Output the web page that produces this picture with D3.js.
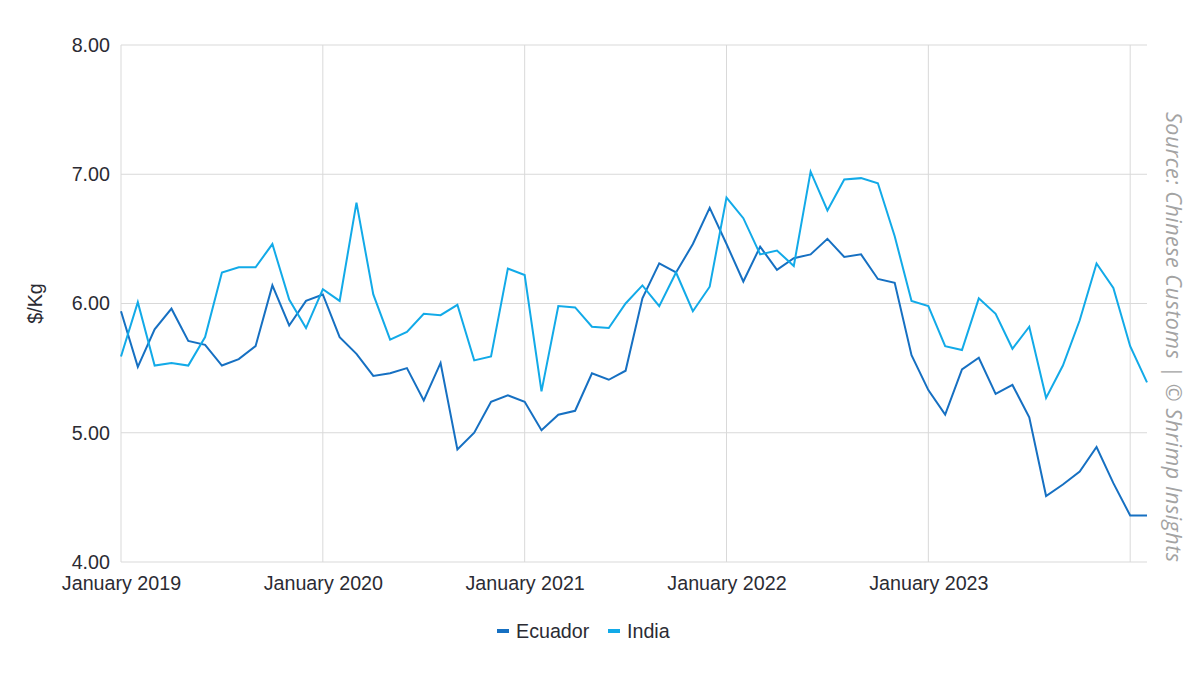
<!DOCTYPE html>
<html>
<head>
<meta charset="utf-8">
<script src="https://cdn.jsdelivr.net/npm/d3@7"></script>
<style>
  html, body { margin: 0; padding: 0; background: #fff; }
  svg { display: block; }
</style>
</head>
<body>
<svg id="chart" width="1200" height="675"></svg>
<script>
// ---- data ----
const startMonth = "2019-01";
const monthCount = 62; // Jan 2019 .. Feb 2024
const ecuador = [5.94, 5.51, 5.80, 5.96, 5.71, 5.68, 5.52, 5.57, 5.67, 6.14, 5.83, 6.02,
                 6.07, 5.74, 5.61, 5.44, 5.46, 5.50, 5.25, 5.54, 4.87, 5.00, 5.24, 5.29,
                 5.24, 5.02, 5.14, 5.17, 5.46, 5.41, 5.48, 6.04, 6.31, 6.24, 6.46, 6.74,
                 6.46, 6.17, 6.44, 6.26, 6.35, 6.38, 6.50, 6.36, 6.38, 6.19, 6.16, 5.60,
                 5.33, 5.14, 5.49, 5.58, 5.30, 5.37, 5.12, 4.51, 4.60, 4.70, 4.89, 4.61,
                 4.36, 4.36];
const india   = [5.59, 6.01, 5.52, 5.54, 5.52, 5.74, 6.24, 6.28, 6.28, 6.46, 6.03, 5.81,
                 6.11, 6.02, 6.78, 6.07, 5.72, 5.78, 5.92, 5.91, 5.99, 5.56, 5.59, 6.27,
                 6.22, 5.32, 5.98, 5.97, 5.82, 5.81, 6.00, 6.14, 5.98, 6.24, 5.94, 6.13,
                 6.82, 6.66, 6.38, 6.41, 6.29, 7.02, 6.72, 6.96, 6.97, 6.93, 6.52, 6.02,
                 5.98, 5.67, 5.64, 6.04, 5.92, 5.65, 5.82, 5.27, 5.52, 5.87, 6.31, 6.12,
                 5.67, 5.39];
const yTicks = [4, 5, 6, 7, 8];
const seriesNames = ["Ecuador", "India"];
const seriesColors = ["#1670c2", "#12aae8"];
const yLabel = "$/Kg";
const sourceText = "Source: Chinese Customs | \u00A9 Shrimp Insights";

// ---- build ----
const parse = d3.timeParse("%Y-%m");
const fmtKey = d3.timeFormat("%Y-%m");
const start = parse(startMonth);
const months = d3.range(monthCount).map(i => fmtKey(d3.timeMonth.offset(start, i)));
const series = [ecuador, india];

const svg = d3.select("#chart");
const pL = 121, pR = 1147, pT = 45, pB = 562;

const x = d3.scalePoint().domain(months).range([pL, pR]);
const y = d3.scaleLinear().domain([4, 8]).range([pB, pT]);

const font = "Liberation Sans, Arial, sans-serif";
const fs = 19.7;

// horizontal gridlines
svg.append("g").selectAll("line").data(yTicks).join("line")
  .attr("x1", pL).attr("x2", pR)
  .attr("y1", d => y(d)).attr("y2", d => y(d))
  .attr("stroke", "#d9d9d9").attr("stroke-width", 1);

// vertical gridlines at Januaries
const janMonths = months.filter(m => m.endsWith("-01"));
svg.append("g").selectAll("line").data(janMonths).join("line")
  .attr("x1", d => x(d)).attr("x2", d => x(d))
  .attr("y1", pT).attr("y2", pB)
  .attr("stroke", "#d9d9d9").attr("stroke-width", 1);

// y axis
const yAxis = svg.append("g").attr("transform", `translate(${pL},0)`)
  .call(d3.axisLeft(y).tickValues(yTicks).tickFormat(d3.format(".2f")).tickSize(0).tickPadding(11));
yAxis.select(".domain").remove();
yAxis.selectAll("text").attr("font-family", font).attr("font-size", fs).attr("fill", "#2b2b33");

// x axis
const xAxis = svg.append("g").attr("transform", `translate(0,${pB})`)
  .call(d3.axisBottom(x).tickValues(janMonths.filter(m => m < "2024")).tickFormat(m => d3.timeFormat("%B %Y")(parse(m))).tickSize(0).tickPadding(14));
xAxis.select(".domain").remove();
xAxis.selectAll("text").attr("font-family", font).attr("font-size", fs).attr("fill", "#2b2b33");

// lines
const line = d3.line().x((d, i) => x(months[i])).y(d => y(d));
svg.append("g").selectAll("path").data(series).join("path")
  .attr("d", d => line(d))
  .attr("fill", "none")
  .attr("stroke", (d, i) => seriesColors[i])
  .attr("stroke-width", 2)
  .attr("stroke-linejoin", "miter");

// y label
svg.append("text")
  .attr("transform", `translate(42,${(pT + pB) / 2}) rotate(-90)`)
  .attr("text-anchor", "middle")
  .attr("font-family", font).attr("font-size", fs).attr("fill", "#2b2b33")
  .text(yLabel);

// source
svg.append("text")
  .attr("transform", `translate(1166,112) rotate(90)`)
  .attr("text-anchor", "start")
  .attr("font-family", "Open Sans, sans-serif").attr("font-style", "italic")
  .attr("font-size", 21.5).attr("fill", "#a3a3a3")
  .attr("textLength", 450).attr("lengthAdjust", "spacing")
  .text(sourceText);

// legend
const legend = svg.append("g");
const legendItems = [{ name: seriesNames[0], x: 497 }, { name: seriesNames[1], x: 608 }];
legendItems.forEach((it, i) => {
  const g = legend.append("g").attr("transform", `translate(${it.x},631)`);
  g.append("rect").attr("x", 0).attr("y", -2).attr("width", 12).attr("height", 4).attr("fill", seriesColors[i]);
  g.append("text").attr("x", 19).attr("y", 7)
    .attr("font-family", font).attr("font-size", fs).attr("fill", "#2b2b33")
    .text(it.name);
});
</script>
</body>
</html>
